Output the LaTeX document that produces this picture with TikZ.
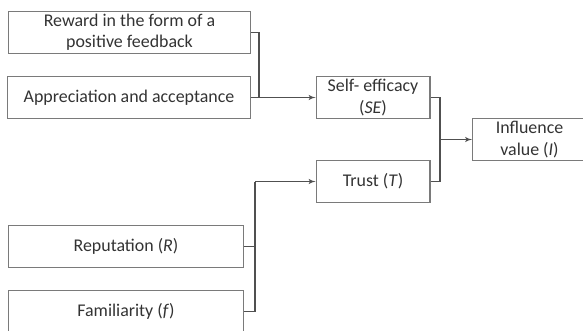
\documentclass[tikz,border=0pt]{standalone}
\usepackage{fontspec}
\setmainfont{Carlito}
\usepackage{xcolor}
\usepackage{tikz}
\usetikzlibrary{shapes,arrows}

\definecolor{boxgray}{HTML}{7A7A7A}
\definecolor{linegray}{HTML}{505050}
\definecolor{txtgray}{HTML}{333333}

\begin{document}
\begin{tikzpicture}[x=0.0265cm, y=-0.0265cm, auto]
	\tikzstyle{block} = [rectangle, draw=boxgray, line width=0.8pt, text=txtgray,
	align=center, inner sep=0pt, minimum height=1.12cm,
	font=\fontsize{13.5}{16}\selectfont]
	\tikzstyle{wide} = [block, minimum width=6.42cm]
	\tikzstyle{small} = [block, minimum width=3.02cm]
	\tikzstyle{link} = [draw=linegray, line width=0.8pt]
	\tikzstyle{line} = [link, -latex']
	\clip (0,0) rectangle (583,331);
	% Place nodes
	\node [wide] (rew) at (129.5,32.5) {Reward in the form of a\\positive feedback};
	\node [wide] (app) at (129,97.5) {Appreciation and acceptance};
	\node [wide, minimum width=6.25cm] (rep) at (126,246.5) {Reputation (\textit{R})};
	\node [wide, minimum width=6.25cm] (fam) at (126,311.5) {Familiarity (\textit{f})};
	\node [small] (se) at (373,97.5) {Self- efficacy\\(\textit{SE})};
	\node [small] (trust) at (373,181.5) {Trust (\textit{T})};
	\node [small] (infl) at (529.5,139.5) {Influence\\value (\textit{I})};
	\coordinate (jse) at (259,97.5);
	\coordinate (jtr) at (255,181.5);
	\coordinate (jin) at (440,139.5);
	% Draw edges
	\path [link] (rew.east) -| (jse);
	\path [line] (app.east) -- (se.west);
	\path [link] (rep.east) -| (jtr);
	\path [link] (fam.east) -| (jtr);
	\path [line] (jtr) -- (trust.west);
	\path [link] (se.east) -| (jin);
	\path [link] (trust.east) -| (jin);
	\path [line] (jin) -- (infl.west);
\end{tikzpicture}
\end{document}
